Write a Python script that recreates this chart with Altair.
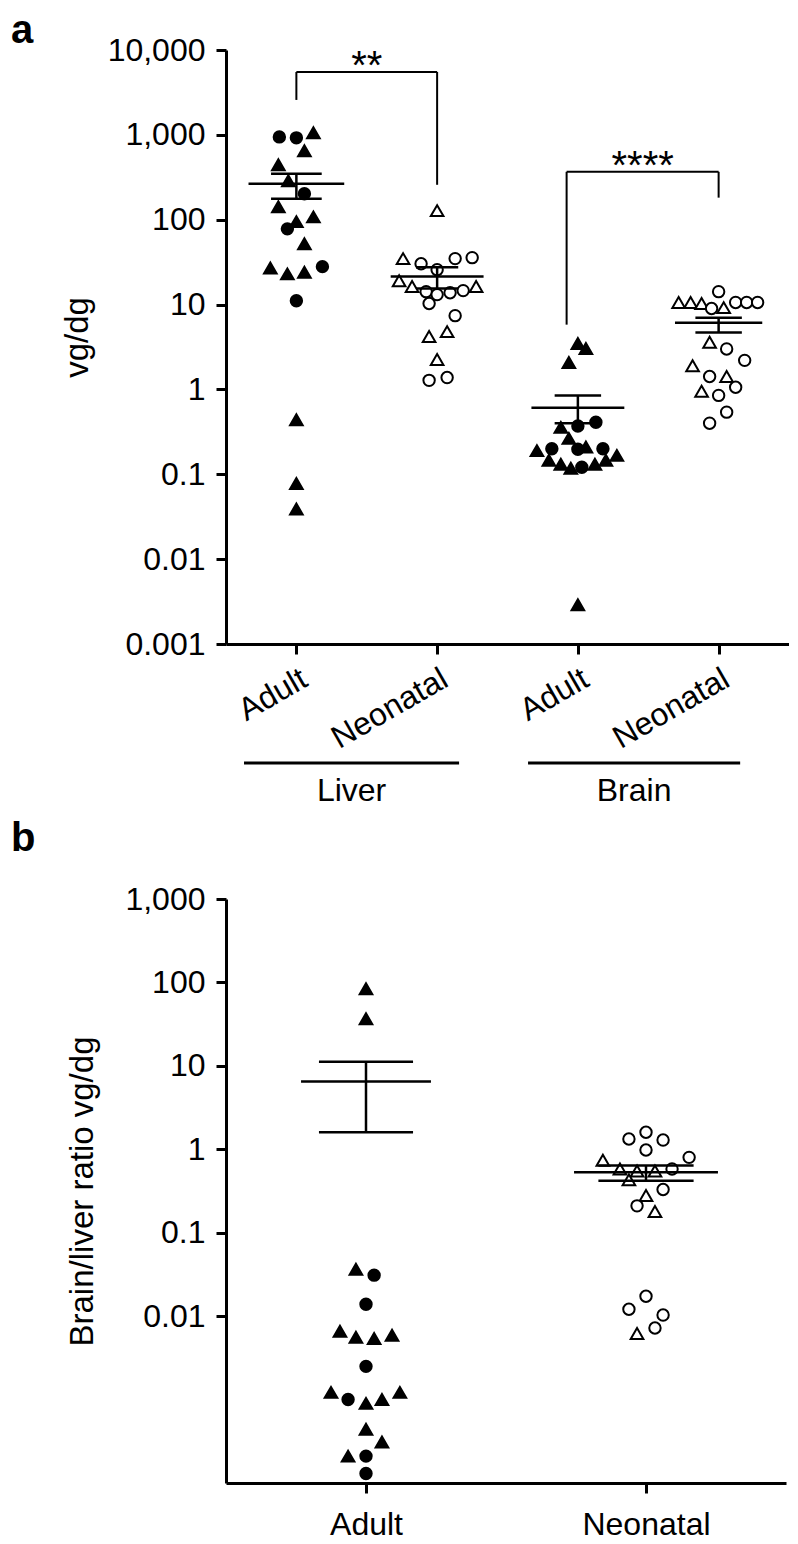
import altair as alt
import pandas as pd

FONT = "Liberation Sans"

# ---------------- panel a data ----------------
a_ticklabels = ["Adult", "Neonatal", "Adult", "Neonatal"]

liver_adult_vals = [946, 922, 1057, 649, 444, 288, 202, 142, 108, 95, 78, 52, 27, 23, 24, 28, 11.1, 0.44, 0.078, 0.039]
liver_adult_off = [-0.121, 0, 0.121, 0.057, -0.128, -0.057, 0.057, -0.128, 0.121, 0, -0.064, 0.057, -0.185, -0.064, 0.057, 0.185, 0, 0, 0, 0]
liver_adult_shape = "ccttttctttcttttccttt"

liver_neo_vals = [128, 34.8, 30.3, 34.8, 35.7, 25.8, 19.1, 16.3, 14.2, 13.1, 13.8, 14.6, 16.3, 10.3, 7.4, 4.2, 4.8, 2.25, 1.28, 1.38]
liver_neo_off = [0, -0.242, -0.114, 0.128, 0.249, 0, -0.27, -0.178, -0.078, 0, 0.092, 0.185, 0.277, -0.057, 0.128, -0.057, 0.071, 0, -0.057, 0.071]
liver_neo_shape = "ttccccttcccctcctttcc"

brain_adult_vals = [3.47, 3.03, 2.08, 0.357, 0.37, 0.41, 0.265, 0.19, 0.20, 0.197, 0.21, 0.20, 0.167, 0.146, 0.131, 0.118, 0.121, 0.131, 0.146, 0.0029]
brain_adult_off = [0, 0.057, -0.064, -0.121, 0, 0.128, -0.064, -0.291, -0.185, 0, 0.057, 0.178, 0.277, -0.206, -0.121, -0.05, 0.028, 0.121, 0.199, 0]
brain_adult_shape = "ttttccttcctcttttcttt"

brain_neo_vals = [14.2, 10.6, 10.6, 10.3, 9.0, 9.2, 10.6, 10.6, 10.6, 3.6, 3.0, 2.2, 1.9, 1.42, 1.42, 1.06, 0.95, 0.85, 0.54, 0.40]
brain_neo_off = [0, -0.284, -0.199, -0.121, -0.05, 0.036, 0.121, 0.199, 0.277, -0.064, 0.057, 0.185, -0.185, -0.064, 0.057, 0.121, -0.121, 0, 0.057, -0.064]
brain_neo_shape = "ctttctccctcctctctccc"

a_mean = [265, 21.4, 0.61, 6.1]
a_sem_lo = [177, 15.5, 0.40, 4.7]
a_sem_hi = [348, 27.5, 0.85, 7.0]
a_mean_half = [0.34, 0.33, 0.33, 0.31]
a_cap_half = [0.18, 0.15, 0.165, 0.165]

brk_x_left = [0, 1.92]
brk_x_right = [1, 3]
brk_y = [5510, 367]
brk_left_end = [2580, 5.8]
brk_right_end = [258, 182]
brk_label = ["**", "****"]

grp_names = ["Liver", "Brain"]
grp_x0 = [-0.372, 1.646]
grp_x1 = [1.156, 3.153]

# ---------------- panel b data ----------------
b_ticklabels = ["Adult", "Neonatal"]

b_adult_vals = [84, 36.7, 0.0365, 0.031, 0.0139, 0.0066, 0.0056, 0.0054, 0.0059, 0.0025, 0.00122, 0.001, 0.0009, 0.001, 0.00122, 0.00044, 0.00031, 0.00021, 0.00021, 0.00013]
b_adult_off = [0, 0, -0.036, 0.029, 0, -0.093, -0.036, 0.029, 0.093, 0, -0.125, -0.064, 0, 0.057, 0.121, 0, 0.057, -0.064, 0, 0]
b_adult_shape = "tttccttttctcttttttcc"

b_neo_vals = [1.6, 1.33, 1.29, 0.98, 0.74, 0.8, 0.58, 0.55, 0.55, 0.58, 0.43, 0.33, 0.28, 0.21, 0.18, 0.0173, 0.0121, 0.0103, 0.0072, 0.0062]
b_neo_off = [0, -0.061, 0.061, 0, -0.154, 0.154, -0.093, -0.032, 0.032, 0.093, -0.061, 0.061, 0, -0.032, 0.032, 0, -0.061, 0.061, 0.032, -0.032]
b_neo_shape = "cccctctttctctctcccct"

b_mean = [6.5, 0.53]
b_sem_lo = [1.6, 0.42]
b_sem_hi = [11.2, 0.64]
b_mean_half = [0.232, 0.257]
b_cap_half = [0.168, 0.17]

LABEL_SIZE = 32
TITLE_SIZE = 33


def points_df(groups):
    rows = []
    for center, vals, offs, shapes, filled in groups:
        for v, o, s in zip(vals, offs, shapes):
            rows.append({"x": center + o, "y": v,
                         "shape": "triangle-up" if s == "t" else "circle",
                         "fill": "black" if filled else "white"})
    return pd.DataFrame(rows)


def stats_dfs(means, los, his, mh, ch):
    n = len(means)
    mean_df = pd.DataFrame({"x": [i - mh[i] for i in range(n)], "x2": [i + mh[i] for i in range(n)], "y": means})
    cap_df = pd.DataFrame({"x": [i - ch[i] for i in range(n)] * 2, "x2": [i + ch[i] for i in range(n)] * 2,
                           "y": list(los) + list(his)})
    stem_df = pd.DataFrame({"x": list(range(n)), "y": los, "y2": his})
    return mean_df, cap_df, stem_df


def letter(txt, x, y):
    return alt.Chart(pd.DataFrame({"t": [txt]})).mark_text(
        font=FONT, fontSize=40, fontWeight="bold", align="left", baseline="middle", color="black"
    ).encode(text="t:N", x=alt.value(x), y=alt.value(y))


LW = 2.5

# ---------------- panel a ----------------
W_A, H_A = 563, 594
xa = alt.X("x:Q", scale=alt.Scale(domain=[-0.5, 3.5], nice=False, zero=False),
           axis=alt.Axis(values=[0, 1, 2, 3], labelExpr=str(a_ticklabels) + "[datum.value]",
                         labelAngle=-30, labelAlign="right", labelBaseline="top", labelPadding=9,
                         labelOverlap=False, labelBound=False, title=None))
ya = alt.Y("y:Q", scale=alt.Scale(type="log", domain=[0.001, 10000], nice=False),
           axis=alt.Axis(values=[0.001, 0.01, 0.1, 1, 10, 100, 1000, 10000], format=",~g",
                         title="vg/dg", titleX=-149, titleY=287, titleAlign="center", titleBaseline="middle",
                         labelPadding=11))

pts_a = points_df([
    (0, liver_adult_vals, liver_adult_off, liver_adult_shape, True),
    (1, liver_neo_vals, liver_neo_off, liver_neo_shape, False),
    (2, brain_adult_vals, brain_adult_off, brain_adult_shape, True),
    (3, brain_neo_vals, brain_neo_off, brain_neo_shape, False),
])

shape_enc = alt.Shape("shape:N", scale=None)
size_enc = alt.Size("shape:N", scale=alt.Scale(domain=["triangle-up", "circle"], range=[160, 130]), legend=None)
fill_enc = alt.Fill("fill:N", scale=None)

points_a = alt.Chart(pts_a).mark_point(filled=True, stroke="black", strokeWidth=2, opacity=1).encode(
    x=xa, y=ya, shape=shape_enc, size=size_enc, fill=fill_enc)

mean_a, cap_a, stem_a = stats_dfs(a_mean, a_sem_lo, a_sem_hi, a_mean_half, a_cap_half)
mean_rule_a = alt.Chart(mean_a).mark_rule(color="black", strokeWidth=LW).encode(x=xa, x2="x2:Q", y=ya)
cap_rule_a = alt.Chart(cap_a).mark_rule(color="black", strokeWidth=LW).encode(x=xa, x2="x2:Q", y=ya)
stem_rule_a = alt.Chart(stem_a).mark_rule(color="black", strokeWidth=LW).encode(x=xa, y=ya, y2="y2:Q")

brk_h = pd.DataFrame({"x": brk_x_left, "x2": brk_x_right, "y": brk_y})
brk_v = pd.DataFrame({"x": brk_x_left + brk_x_right, "y": brk_y + brk_y,
                      "y2": brk_left_end + brk_right_end})
brk_t = pd.DataFrame({"x": [(l + r) / 2 for l, r in zip(brk_x_left, brk_x_right)], "y": brk_y, "t": brk_label})
brk_h_rule = alt.Chart(brk_h).mark_rule(color="black", strokeWidth=2).encode(x=xa, x2="x2:Q", y=ya)
brk_v_rule = alt.Chart(brk_v).mark_rule(color="black", strokeWidth=2).encode(x=xa, y=ya, y2="y2:Q")
brk_text = alt.Chart(brk_t).mark_text(font=FONT, fontSize=40, baseline="alphabetic", dy=7, color="black").encode(
    x=xa, y=ya, text="t:N")

grp_line_df = pd.DataFrame({"x": grp_x0, "x2": grp_x1})
grp_text_df = pd.DataFrame({"x": [(a + b) / 2 for a, b in zip(grp_x0, grp_x1)], "t": grp_names})
grp_rule = alt.Chart(grp_line_df).mark_rule(color="black", strokeWidth=3).encode(x=xa, x2="x2:Q", y=alt.value(713))
grp_text = alt.Chart(grp_text_df).mark_text(font=FONT, fontSize=LABEL_SIZE, baseline="middle", color="black").encode(
    x=xa, y=alt.value(741), text="t:N")

chart_a = alt.layer(
    points_a, mean_rule_a, cap_rule_a, stem_rule_a, brk_h_rule, brk_v_rule, brk_text,
    grp_rule, grp_text, letter("a", -215, -19)
).properties(width=W_A, height=H_A)

# ---------------- panel b ----------------
W_B, H_B = 560, 584
xb = alt.X("x:Q", scale=alt.Scale(domain=[-0.5, 1.5], nice=False, zero=False),
           axis=alt.Axis(values=[0, 1], labelExpr=str(b_ticklabels) + "[datum.value]",
                         labelAngle=0, labelAlign="center", labelBaseline="top", labelPadding=16, title=None))
yb = alt.Y("y:Q", scale=alt.Scale(type="log", domain=[0.0001, 1000], nice=False),
           axis=alt.Axis(values=[0.01, 0.1, 1, 10, 100, 1000], format=",~g",
                         title="Brain/liver ratio vg/dg", titleX=-144, titleY=292, titleAlign="center",
                         titleBaseline="middle", labelPadding=11))

pts_b = points_df([
    (0, b_adult_vals, b_adult_off, b_adult_shape, True),
    (1, b_neo_vals, b_neo_off, b_neo_shape, False),
])
points_b = alt.Chart(pts_b).mark_point(filled=True, stroke="black", strokeWidth=2, opacity=1).encode(
    x=xb, y=yb, shape=shape_enc, size=size_enc, fill=fill_enc)

mean_b, cap_b, stem_b = stats_dfs(b_mean, b_sem_lo, b_sem_hi, b_mean_half, b_cap_half)
mean_rule_b = alt.Chart(mean_b).mark_rule(color="black", strokeWidth=LW).encode(x=xb, x2="x2:Q", y=yb)
cap_rule_b = alt.Chart(cap_b).mark_rule(color="black", strokeWidth=LW).encode(x=xb, x2="x2:Q", y=yb)
stem_rule_b = alt.Chart(stem_b).mark_rule(color="black", strokeWidth=LW).encode(x=xb, y=yb, y2="y2:Q")

chart_b = alt.layer(
    points_b, mean_rule_b, cap_rule_b, stem_rule_b, letter("b", -215, -60)
).properties(width=W_B, height=H_B)

chart = alt.vconcat(chart_a, chart_b, spacing=12,
                    padding={"left": 3, "top": 3, "right": 0, "bottom": 0}).configure_view(stroke=None).configure_axis(
    domainColor="black", domainWidth=3, tickColor="black", tickWidth=3, tickSize=10,
    labelFont=FONT, labelFontSize=LABEL_SIZE, labelColor="black",
    titleFont=FONT, titleFontSize=TITLE_SIZE, titleFontWeight="normal", titleColor="black",
    grid=False
)

chart.save("out.html", embed_options={"renderer": "svg", "actions": False})
